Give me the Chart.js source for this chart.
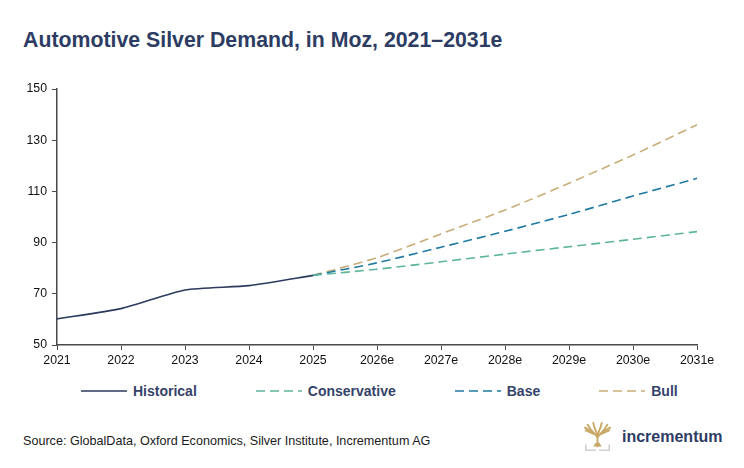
<!DOCTYPE html>
<html>
<head>
<meta charset="utf-8">
<script src="https://cdn.jsdelivr.net/npm/chart.js@4/dist/chart.umd.min.js"></script>
<style>
  html, body { margin: 0; padding: 0; background: #fff; }
  body { width: 744px; height: 468px; position: relative; overflow: hidden; font-family: "Liberation Sans", Arial, sans-serif; }
  #title { position: absolute; left: 23px; top: 28px; font-size: 21.3px; font-weight: bold; color: #2d3c63; white-space: nowrap; }
  #wrap { position: absolute; left: 0; top: 0; width: 744px; height: 380px; }
  #legend { position: absolute; left: 81px; top: 382px; height: 18px; display: flex; align-items: center; }
  .item { display: flex; align-items: center; margin-right: 59px; font-size: 14px; font-weight: bold; color: #34436a; white-space: nowrap; }
  .item svg { margin-right: 6px; }
  #source { position: absolute; left: 23px; top: 434px; font-size: 12.6px; color: #1a1a1a; white-space: nowrap; }
  #logo { position: absolute; left: 582px; top: 422px; display: flex; align-items: center; }
  #logo span { font-size: 16px; font-weight: bold; color: #2d3c63; margin-left: 9px; }
</style>
</head>
<body>
<div id="title">Automotive Silver Demand, in Moz, 2021–2031e</div>
<div id="wrap"><canvas id="c"></canvas></div>
<div id="legend"></div>
<div id="source">Source: GlobalData, Oxford Economics, Silver Institute, Incrementum AG</div>
<div id="logo">
  <svg width="31" height="30" viewBox="0 0 31 32">
    <g stroke="#c9a866" stroke-width="2" fill="none" stroke-linecap="round">
      <path d="M15.5 26 L15.5 14"/>
      <path d="M15.5 16 L9 9 L5 3"/>
      <path d="M15.5 16 L22 9 L26 3"/>
      <path d="M15.5 14 L12 5 L11 1"/>
      <path d="M15.5 14 L19 5 L20 1"/>
      <path d="M12 13 L3 9"/>
      <path d="M19 13 L28 9"/>
      <path d="M9 10 L2 6"/>
      <path d="M22 10 L29 6"/>
    </g>
    <path d="M11 26 L20 26 L17.5 22 L13.5 22 Z" fill="#c9a866"/>
    <path d="M3 24 L3 30 L14 30 M17 30 L28 30 L28 24" stroke="#c8c8c8" stroke-width="1.5" fill="none"/>
  </svg>
  <span>incrementum</span>
</div>
<script>
const categories = ["2021", "2022", "2023", "2024", "2025", "2026e", "2027e", "2028e", "2029e", "2030e", "2031e"];
const historical = [60.2, 64.2, 71.5, 73.2, 77.2, null, null, null, null, null, null];
const conservative = [null, null, null, null, 77.2, 79.6, 82.5, 85.5, 88.4, 91.3, 94.3];
const base = [null, null, null, null, 77.2, 82.1, 88.2, 94.4, 101.0, 108.2, 115.1];
const bull = [null, null, null, null, 77.2, 84.1, 93.4, 102.7, 113.2, 124.2, 136.0];
const seriesNames = ["Historical", "Conservative", "Base", "Bull"];
const seriesColors = ["#2b3a5e", "#5db59c", "#1f7aa3", "#c9ad78"];
const yTicks = [50, 70, 90, 110, 130, 150];

const seriesData = [historical, conservative, base, bull];
const datasets = seriesData.map((d, i) => ({
  label: seriesNames[i],
  data: d,
  borderColor: seriesColors[i],
  backgroundColor: seriesColors[i],
  borderWidth: 1.6,
  borderDash: i === 0 ? [] : [9, 5],
  pointRadius: 0,
  tension: 0.2,
  spanGaps: false,
  fill: false
}));

const axisColor = "#4a4a4a";
const chart = new Chart(document.getElementById("c"), {
  type: "line",
  data: { labels: categories, datasets: datasets },
  options: {
    responsive: true,
    maintainAspectRatio: false,
    animation: false,
    layout: { padding: { left: 0, right: 47, top: 89, bottom: 0 } },
    plugins: { legend: { display: false }, title: { display: false }, tooltip: { enabled: false } },
    scales: {
      x: {
        offset: false,
        grid: { drawOnChartArea: false, drawTicks: true, tickLength: 5, color: axisColor, tickColor: axisColor },
        border: { color: axisColor, width: 1.5 },
        ticks: { color: "#111", font: { family: "Liberation Sans", size: 12.3 }, padding: 3, maxRotation: 0, autoSkip: false },
        afterFit: (s) => { s.height = 380 - 345; }
      },
      y: {
        min: 50, max: 150,
        afterBuildTicks: (s) => { s.ticks = yTicks.map(v => ({ value: v })); },
        grid: { drawOnChartArea: false, drawTicks: true, tickLength: 5, color: axisColor, tickColor: axisColor },
        border: { color: axisColor, width: 1.5 },
        ticks: { color: "#111", font: { family: "Liberation Sans", size: 12.3 }, padding: 5 },
        afterFit: (s) => { s.width = 57; }
      }
    }
  }
});

// HTML legend built from the chart's datasets
const legend = document.getElementById("legend");
chart.data.datasets.forEach((ds) => {
  const item = document.createElement("div");
  item.className = "item";
  const dash = ds.borderDash && ds.borderDash.length ? `stroke-dasharray="${ds.borderDash.join(",")}"` : "";
  item.innerHTML = `<svg width="46" height="4"><line x1="0" y1="2" x2="46" y2="2" stroke="${ds.borderColor}" stroke-width="1.6" ${dash}/></svg><span>${ds.label}</span>`;
  legend.appendChild(item);
});
</script>
</body>
</html>
